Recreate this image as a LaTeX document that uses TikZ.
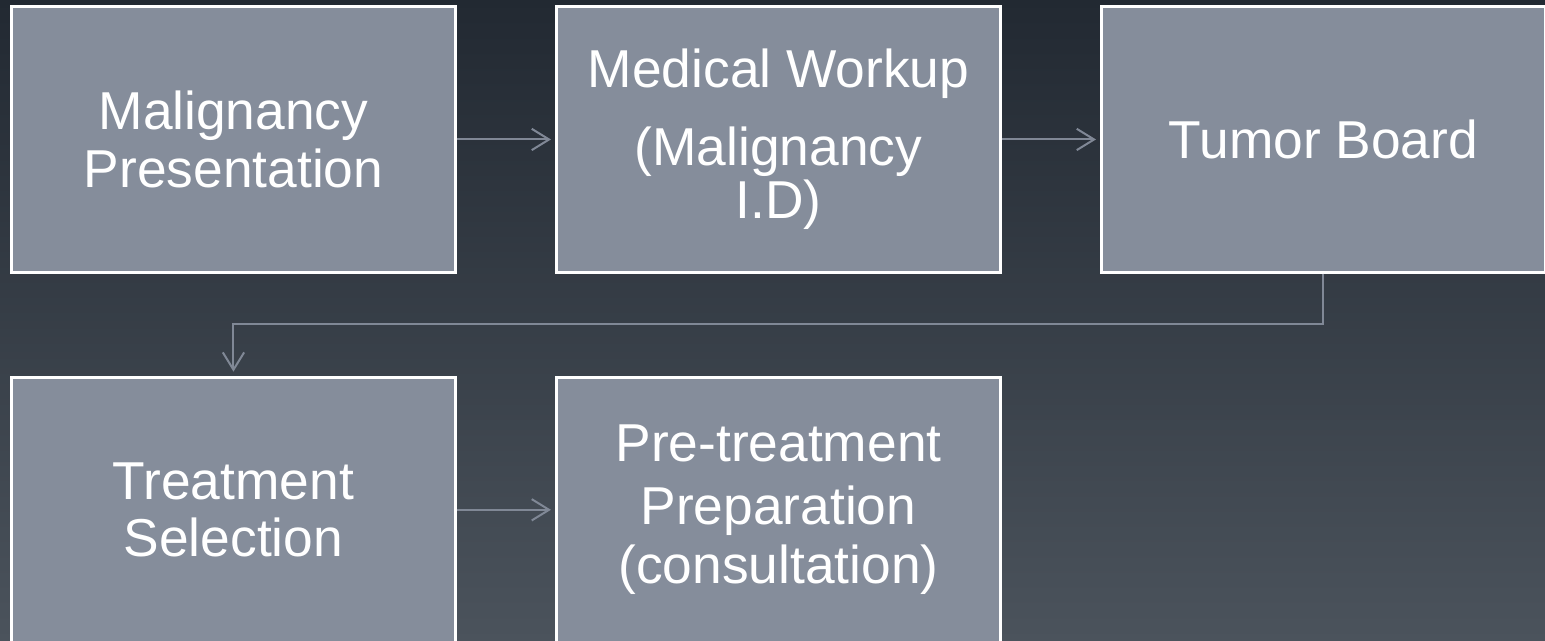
\documentclass[tikz,border=0pt]{standalone}
\usepackage{fontspec}
\setmainfont{Liberation Sans}
\usetikzlibrary{positioning,arrows.meta}

\definecolor{boxfill}{HTML}{858D9B}
\definecolor{linkcol}{HTML}{808896}
\definecolor{bgtop}{HTML}{222932}
\definecolor{bgbottom}{HTML}{4B535C}

\begin{document}
\begin{tikzpicture}
		[step box/.style={rectangle,draw=white,fill=boxfill,line width=2.25pt,
			minimum width=333pt,minimum height=199pt,inner sep=0pt,
			text=white,align=center,font=\fontsize{40}{45}\selectfont},
		link/.style={draw=linkcol,line width=1.5pt,-{Straight Barb[length=13pt,width=16pt,line width=1.5pt]},shorten >=3pt},
		node distance=76.5pt and 73.5pt]
		% backdrop, 1545 x 641 px
		\shade [top color=bgtop,bottom color=bgbottom] (0,0) rectangle (1158.75pt,-480.75pt);
		\useasboundingbox (0,0) rectangle (1158.75pt,-480.75pt);

		\node [step box] (b1) at (175.1pt,-104.6pt) {Malignancy\\[-2pt]Presentation};
		\node [step box] (b2) [right=of b1] {Medical Workup\\[13pt](Malignancy\\[-5pt]I.D)};
		\node [step box] (b3) [right=of b2] {Tumor Board};
		\node [step box] (a1) [below=of b1] {Treatment\\[-2pt]Selection};
		\node [step box] (a2) [right=of a1] {Pre-treatment\\[2pt]Preparation\\[-1pt](consultation)};

		\draw [link] (b1) -- (b2);
		\draw [link] (b2) -- (b3);
		\draw [link] (b3.south) |- ++(0,-38pt) -| (a1.north);
		\draw [link] (a1) -- (a2);

	\end{tikzpicture}
\end{document}
